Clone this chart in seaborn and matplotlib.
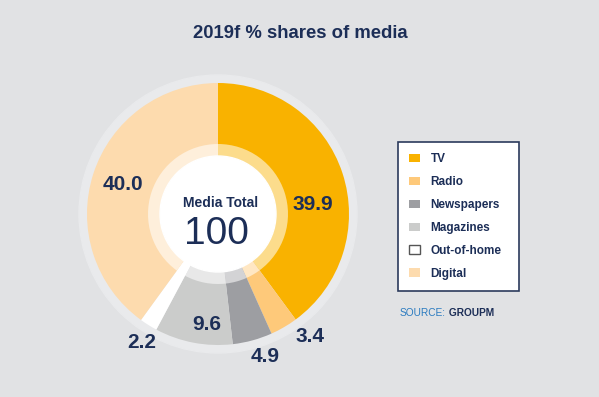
import numpy as np
import matplotlib.pyplot as plt
import seaborn as sns
from matplotlib.patches import Circle, Patch
from matplotlib.colors import to_rgb

# data
media = ["TV", "Radio", "Newspapers", "Magazines", "Out-of-home", "Digital"]
shares = [39.9, 3.4, 4.9, 9.6, 2.2, 40.0]
colours = ["#F9B200", "#FEC97A", "#9D9EA2", "#CBCCCB", "#FFFFFF", "#FDDBAE"]
total_value = 100

# style
sns.set_theme(style="white")
plt.rcParams["font.family"] = ["Liberation Sans", "DejaVu Sans"]
bg = "#E1E2E4"
navy = "#1C2E57"

W, H = 599, 397
fig = plt.figure(figsize=(W / 100, H / 100), dpi=100, facecolor=bg)
ax = fig.add_axes([0, 0, 1, 1])
ax.set_facecolor(bg)


def py(y):
    # pixel row -> data y (y axis goes up)
    return H - y


cx, cy, R = 218, py(214), 131

# light halo round the donut
ax.add_patch(Circle((cx, cy), 139, color="#E9EAEC", zorder=0))

ax.pie(shares, colors=colours, startangle=90, counterclock=False, radius=R,
       center=(cx, cy), wedgeprops=dict(linewidth=0), frame=True)

# paler inner band
pale = [tuple(np.array(to_rgb(c)) + (1 - np.array(to_rgb(c))) * 0.55) for c in colours]
ax.pie(shares, colors=pale, startangle=90, counterclock=False, radius=70,
       center=(cx, cy), wedgeprops=dict(width=12, linewidth=0), frame=True)
ax.add_patch(Circle((cx, cy), 58, color="white", zorder=5))

ax.set_xlim(0, W)
ax.set_ylim(0, H)
ax.set_aspect("equal")
ax.axis("off")

# value labels (pixel positions)
label_pos = [(313, 205), (310, 337), (265, 357), (207, 325), (142, 342), (123, 185)]
for v, (x, y) in zip(shares, label_pos):
    ax.text(x, py(y), f"{v:.1f}", ha="center", va="center", fontsize=15,
            fontweight="bold", color=navy, zorder=6)

ax.text(221, py(203), "Media Total", ha="center", va="center", fontsize=10,
        fontweight="bold", color=navy, zorder=6)
ax.text(216, py(234), f"{total_value}", ha="center", va="center", fontsize=28,
        color=navy, zorder=6)

ax.text(300, py(34), "2019f % shares of media", ha="center", va="center",
        fontsize=13.3, fontweight="bold", color=navy)

# legend, box spans x 398..519 px
handles = []
for c in colours:
    if c == "#FFFFFF":
        handles.append(Patch(facecolor=c, edgecolor="#555555", linewidth=1))
    else:
        handles.append(Patch(facecolor=c, edgecolor=c, linewidth=0))
leg = ax.legend(handles, media, loc="upper left", mode="expand",
                bbox_to_anchor=(398 / W, 1 - 142 / H, 121 / W, 0),
                bbox_transform=fig.transFigure,
                frameon=True, fancybox=False, edgecolor="#2B3A5C", facecolor="white",
                framealpha=1, prop=dict(weight="bold", size=8.5), labelcolor=navy,
                handlelength=0.9, handleheight=0.7, handletextpad=0.9,
                labelspacing=0.92, borderpad=0.95, borderaxespad=0)
leg.get_frame().set_linewidth(1.2)

src = ax.text(400, py(313), "SOURCE:", ha="left", va="center", fontsize=7.3,
              color="#2B7BC0")
ax.annotate(" GROUPM", xy=(1, 0.5), xycoords=src, ha="left", va="center",
            fontsize=7.3, fontweight="bold", color=navy)

fig.savefig("out.png", dpi=100, facecolor=bg)
